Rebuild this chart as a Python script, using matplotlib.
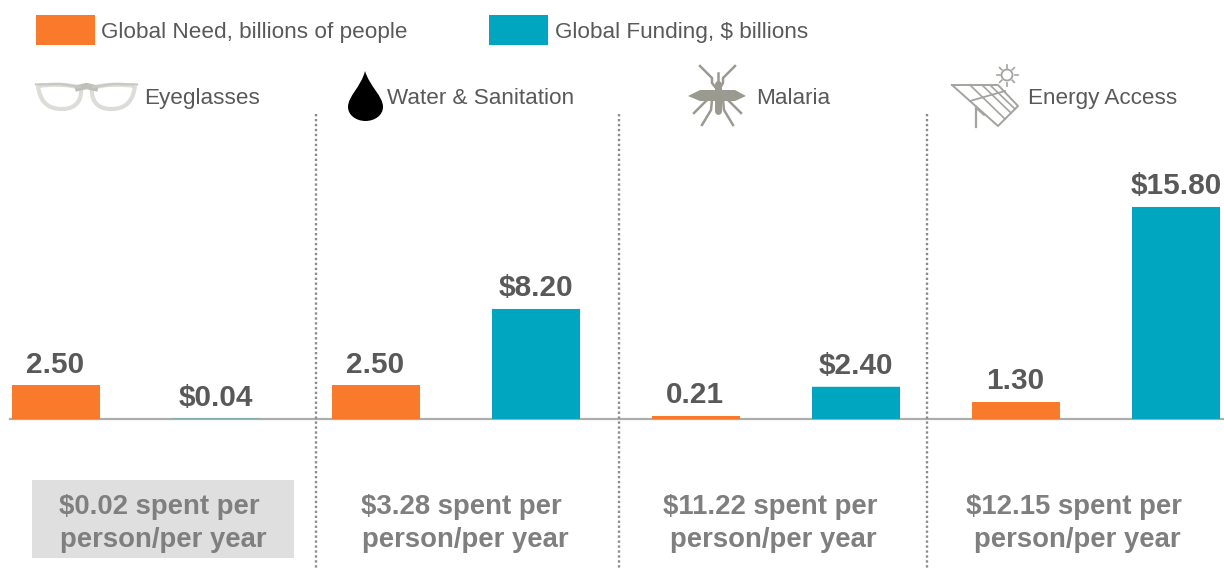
import matplotlib
matplotlib.use("Agg")
import matplotlib.pyplot as plt
from matplotlib.patches import Rectangle, Circle, PathPatch
from matplotlib.path import Path

plt.rcParams["font.family"] = ["Liberation Sans", "DejaVu Sans"]

# data
categories = ["Eyeglasses", "Water & Sanitation", "Malaria", "Energy Access"]
need = [2.50, 2.50, 0.21, 1.30]
funding = [0.04, 8.20, 2.40, 15.80]
funding_labels = ["$0.04", "$8.20", "$2.40", "$15.80"]
spent_line1 = ["$0.02 spent per", "$3.28 spent per", "$11.22 spent per", "$12.15 spent per"]
spent_line2 = ["person/per year"] * 4

ORANGE = "#fa7a2c"
TEAL = "#00a5c0"
TEXT = "#595959"
PALE = "#7f7f7f"
W, H = 1224, 568
BASE = 419
SCALE = 13.42  # pixels per unit

fig = plt.figure(figsize=(W / 100, H / 100), dpi=100)

# bars live on their own axes, zero sits on the baseline
ax = fig.add_axes([0, 0, 1, 1])
ax.set_xlim(0, W)
ax.set_ylim(-(H - BASE) / SCALE, BASE / SCALE)
ax.axis("off")

ax.axhline(0, xmin=10 / W, color="#a9aeab", lw=1.6, zorder=2)
for i in range(4):
    x_need = 56 + 320 * i
    x_fund = 216 + 320 * i
    ax.bar(x_need, need[i], width=88, color=ORANGE, zorder=3)
    # the smallest bar is under a pixel tall, so let it blend into the baseline
    ax.bar(x_fund, funding[i], width=88, color=TEAL, zorder=3,
           snap=False, alpha=0.35 if funding[i] < 0.1 else 1)
    ax.text(x_need - 1, need[i] + 0.5, f"{need[i]:.2f}", ha="center", va="bottom",
            fontsize=21.4, fontweight="bold", color=TEXT)
    ax.text(x_fund, funding[i] + 0.5, funding_labels[i], ha="center", va="bottom",
            fontsize=21.4, fontweight="bold", color=TEXT)

# everything else is placed in pixels from the top left
ov = fig.add_axes([0, 0, 1, 1])
ov.set_xlim(0, W)
ov.set_ylim(H, 0)
ov.axis("off")
ov.patch.set_alpha(0)

# legend
ov.add_patch(Rectangle((36, 15), 59, 30, color=ORANGE, lw=0))
ov.add_patch(Rectangle((489, 15), 59, 30, color=TEAL, lw=0))
ov.text(101, 32.5, "Global Need, billions of people", fontsize=16.2, color=TEXT, va="center")
ov.text(555, 32.5, "Global Funding, $ billions", fontsize=16.2, color=TEXT, va="center")

# headers
header_x = [144, 387, 756, 1028]
for x, name in zip(header_x, categories):
    ov.text(x, 98.5, name, fontsize=16.2, color=TEXT, va="center")

# dividers
for x in [316, 619, 927]:
    ov.plot([x, x], [114, 568], color="#8c8c8c", lw=1.7, ls=(0, (1, 1.1)), zorder=5)

# bottom notes
ov.add_patch(Rectangle((32, 480), 262, 78, color="#dfdfdf", lw=0))
line1_x = [159, 461, 770, 1074]
line2_x = [163, 465, 773, 1077]
for i in range(4):
    ov.text(line1_x[i], 507, spent_line1[i], ha="center", va="center",
            fontsize=19.8, fontweight="bold", color=PALE)
    ov.text(line2_x[i], 540, spent_line2[i], ha="center", va="center",
            fontsize=19.8, fontweight="bold", color=PALE)

# eyeglasses icon
lens_left = [(38, 86), (52, 84), (68, 84), (81, 88), (82, 98), (78, 109), (62, 109),
             (46, 109), (40, 100), (38, 86)]
codes = [Path.MOVETO] + [Path.CURVE4] * 9
for flip in [False, True]:
    pts = [(173 - x, y) if flip else (x, y) for x, y in lens_left]
    ov.add_patch(PathPatch(Path(pts, codes), fc="white", ec="#dcddd8", lw=3))
ov.plot([78, 86.5, 95], [88, 86, 88], color="#bfc0b8", lw=4.5)
ov.plot([36, 60, 80], [84.5, 84, 87], color="#c8c9c1", lw=1.6)
ov.plot([93, 113, 137], [87, 84, 84.5], color="#c8c9c1", lw=1.6)

# water drop icon
drop = Path(
    [(365, 71), (361, 87), (348, 96), (348, 107), (348, 115), (356, 121), (365.5, 121),
     (375, 121), (383, 115), (383, 107), (383, 96), (370, 87), (365, 71)],
    [Path.MOVETO] + [Path.CURVE4] * 12,
)
ov.add_patch(PathPatch(drop, fc="black", ec="none"))

# mosquito icon
MQ = "#9a9a90"
wings = Path(
    [(688, 96), (700, 90), (735, 90), (746, 96), (735, 101), (700, 101), (688, 96)],
    [Path.MOVETO] + [Path.LINETO] * 6,
)
ov.add_patch(PathPatch(wings, fc=MQ, ec="none"))
ov.plot([718, 718], [84, 111], color=MQ, lw=5, solid_capstyle="round")
ov.plot([718, 718], [73, 90], color=MQ, lw=1.8)
legs = [
    ([700, 712, 712, 716], [66, 78, 83, 88]),
    ([735, 723, 723, 720], [66, 78, 83, 88]),
    ([694, 706, 711], [113, 101, 97]),
    ([741, 729, 724], [113, 101, 97]),
    ([702, 711, 712], [125, 110, 100]),
    ([733, 724, 723], [125, 110, 100]),
]
for lx, ly in legs:
    ov.plot(lx, ly, color=MQ, lw=1.8)

# solar panel icon
SP = "#a3a3a0"
ov.plot([952, 998, 1018, 998, 952], [85, 85, 106, 126, 85], color=SP, lw=1.4)
for a, b in [((970, 85), (1005, 119)), ((982, 85), (1011, 113)), ((990, 85), (1015, 109))]:
    ov.plot([a[0], b[0]], [a[1], b[1]], color=SP, lw=1.2)
ov.plot([970, 1005], [101, 91], color=SP, lw=1.3)
ov.plot([976, 976], [107, 127], color=SP, lw=1.6)
ov.plot([976, 984], [108, 115], color=SP, lw=1.2)

ov.add_patch(Circle((1007, 75), 5.5, fc="white", ec=SP, lw=1.3))
for dx, dy in [(0, -1), (0, 1), (-1, 0), (1, 0), (-0.7, -0.7), (0.7, -0.7), (-0.7, 0.7), (0.7, 0.7)]:
    ov.plot([1007 + dx * 7.5, 1007 + dx * 10.5], [75 + dy * 7.5, 75 + dy * 10.5], color=SP, lw=1.2)

fig.savefig("out.png", dpi=100)
plt.close(fig)
